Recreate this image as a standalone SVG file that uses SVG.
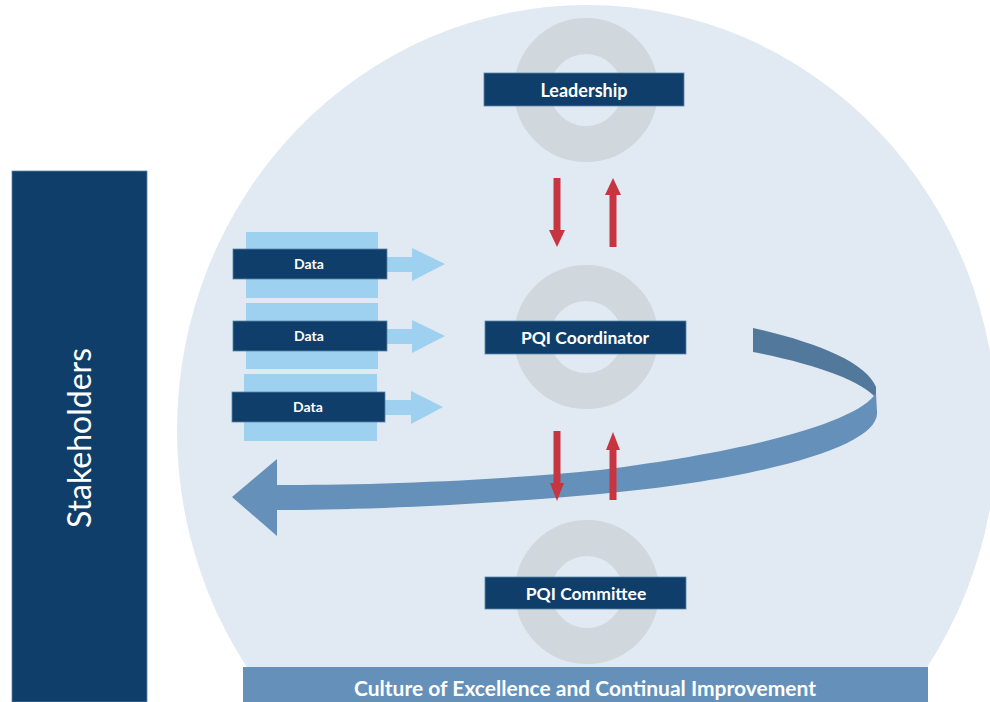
<svg xmlns="http://www.w3.org/2000/svg" width="990" height="702" viewBox="0 0 990 702">
<style>
.box{fill:#0e3e69;stroke:#5a84aa;stroke-width:0.8}
.lbl{font-family:Lato,"Liberation Sans",sans-serif;font-weight:bold;fill:#ffffff;text-anchor:middle}
.ring{fill:none;stroke:#d0d8dd;stroke-width:36}
.data{fill:#9dd1ef}
.red{fill:#c73640}
</style>
<rect width="990" height="702" fill="#ffffff"/>
<ellipse cx="587" cy="430" rx="410" ry="425" fill="#e1e9f2"/>

<g id="data-stack">
  <rect class="data" x="246" y="232" width="132" height="66"/>
  <rect class="data" x="246" y="303" width="132" height="66"/>
  <rect class="data" x="244" y="374" width="133" height="67"/>
</g>

<g id="connectors">
  <path class="data" d="M387,257 L412,257 L412,248 L445,264 L412,281 L412,272 L387,272 Z"/>
  <path class="data" d="M387,329 L412,329 L412,320 L445,336 L412,353 L412,344 L387,344 Z"/>
  <path class="data" d="M385,400 L411,400 L411,391 L443,407 L411,424 L411,415 L385,415 Z"/>
  <path fill="#52789c" d="M753,328 C815,342 866,362 876,387 L876,398 C862,381 815,364 753,352 Z"/>
  <path fill="#6590b9" d="M876,393 C860,420 760,450 600,470 C480,482 360,485 277,485 L277,459 L232,497 L277,536 L277,510 C360,510 480,505 600,494 C770,478 880,445 877,412 Z"/>
  <path class="red" d="M553.5,178 L560.5,178 L560.5,230 L565,230 L557,247 L549,230 L553.5,230 Z"/>
  <path class="red" d="M609.5,247 L616.5,247 L616.5,195 L621,195 L613,178 L605,195 L609.5,195 Z"/>
  <path class="red" d="M553.5,431 L560.5,431 L560.5,483 L564,483 L557,501 L550,483 L553.5,483 Z"/>
  <path class="red" d="M609.5,500 L616.5,500 L616.5,450 L620,450 L613,432 L606,450 L609.5,450 Z"/>
</g>

<g id="leadership">
  <circle class="ring" cx="586" cy="90" r="54"/>
  <rect class="box" x="484" y="73" width="200" height="33"/>
  <text class="lbl" x="584" y="96.5" font-size="18">Leadership</text>
</g>

<g id="pqi-coordinator">
  <circle class="ring" cx="586" cy="337" r="54"/>
  <rect class="box" x="485" y="321" width="201" height="33"/>
  <text class="lbl" x="585" y="344" font-size="17.5">PQI Coordinator</text>
</g>

<g id="pqi-committee">
  <circle class="ring" cx="587" cy="592" r="54"/>
  <rect class="box" x="485" y="577" width="201" height="32"/>
  <text class="lbl" x="586" y="599.5" font-size="17.5">PQI Committee</text>
</g>

<g id="data1">
  <rect class="box" x="233" y="249" width="154" height="30"/>
  <text class="lbl" x="309" y="269" font-size="14">Data</text>
</g>
<g id="data2">
  <rect class="box" x="233" y="321" width="154" height="30"/>
  <text class="lbl" x="309" y="341" font-size="14">Data</text>
</g>
<g id="data3">
  <rect class="box" x="232" y="392" width="153" height="30"/>
  <text class="lbl" x="308" y="412" font-size="14">Data</text>
</g>

<g id="stakeholders">
  <rect x="12" y="171" width="135" height="531" fill="#0e3e69" stroke="#5a84aa" stroke-width="0.8"/>
  <text x="0" y="0" transform="translate(91,438) rotate(-90)" font-family="Lato,'Liberation Sans',sans-serif" font-size="32" fill="#ffffff" text-anchor="middle">Stakeholders</text>
</g>

<g id="culture">
  <rect x="243" y="667" width="685" height="35" fill="#6590b9"/>
  <text class="lbl" x="585" y="695.5" font-size="21">Culture of Excellence and Continual Improvement</text>
</g>
</svg>
